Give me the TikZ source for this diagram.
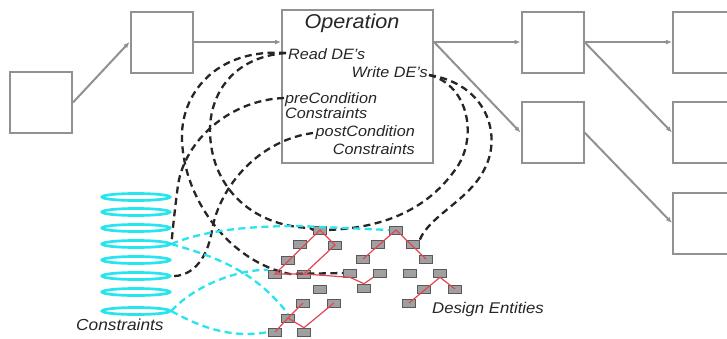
\documentclass[tikz,border=0pt]{standalone}
\usepackage{fontspec}
\setmainfont{Liberation Sans}
\usepackage{graphicx}
\usetikzlibrary{shapes.geometric,arrows.meta}
\definecolor{boxgray}{RGB}{145,145,145}
\definecolor{cyanx}{RGB}{40,228,238}
\definecolor{redx}{RGB}{225,70,85}
\definecolor{degray}{RGB}{160,160,160}
\newcommand{\lbl}[1]{\scalebox{1.08}[1]{\itshape #1}}
\begin{document}
\begin{tikzpicture}[x=1pt,y=-1pt,
  blk/.style={draw=boxgray,line width=2pt,minimum width=62pt,minimum height=61pt,inner sep=0pt},
  flow/.style={draw=boxgray,line width=2pt,-{Latex[length=6pt,width=5pt]}},
  de/.style={draw=gray!70!black,fill=degray,line width=0.6pt,minimum width=13pt,minimum height=8pt,inner sep=0pt},
  cons/.style={ellipse,draw=cyanx,line width=2.7pt,minimum width=68pt,minimum height=7pt,inner sep=0pt},
  bdash/.style={draw=black!85,line width=2.3pt,dash pattern=on 7pt off 4.5pt},
  cdash/.style={draw=cyanx,line width=2.3pt,dash pattern=on 7pt off 4.5pt},
  rl/.style={draw=redx,line width=1.2pt},
  lab/.style={inner sep=0pt,font=\fontsize{15}{17}\selectfont,text=black!85}
]
\useasboundingbox (0,0) rectangle (727,338);
\fill[white] (0,0) rectangle (727,338);
\clip (0,0) rectangle (727,338);

% process boxes
\node[blk] (A) at (41,102.5) {};
\node[blk] (B) at (161.5,42) {};
\node[draw=boxgray,line width=2pt,minimum width=151pt,minimum height=153pt,inner sep=0pt] (op) at (357.5,86.5) {};
\node[blk] (C) at (552.5,42) {};
\node[blk] (D) at (552.5,132.5) {};
\node[blk] (E) at (704,42) {};
\node[blk] (F) at (704,132.5) {};
\node[blk] (G) at (704,223) {};

% flow arrows
\draw[flow] (A.east) -- (B.west);
\draw[flow] (B.east) -- (B.east -| op.west);
\draw[flow] (C.west -| op.east) -- (C.west);
\draw[flow] (C.west -| op.east) -- (D.west);
\draw[flow] (C.east) -- (E.west);
\draw[flow] (C.east) -- (F.west);
\draw[flow] (D.east) -- (G.west);

% constraints
\foreach \i/\yy in {1/197,2/212,3/228,4/244,5/260,6/276,7/292,8/311}
  \node[cons] (e\i) at (136,\yy) {};

% design entities
\foreach \n/\xx/\yy in {1/320/230,2/300/244,3/335/245,4/288/260,5/275/274,6/304/274,7/350/273,
  8/363/259,9/378/244,10/396/230,11/413/244,12/426/259,13/380/273,14/410/273,15/440/273,
  16/364/288,17/424/289,18/455/289,19/409/303,20/320/289,21/303/303,22/334/303,23/288/318,24/275/332,25/304/332}
  \node[de] (d\n) at (\xx,\yy) {};

% ends of the dashed links in the operation box
\coordinate (rd) at (286,53);
\coordinate (wr) at (429,75);
\coordinate (pre) at (284,98);
\coordinate (post) at (313,133);

% black dashed links
\draw[bdash] (rd) .. controls (215,48) and (180,95) .. (182,140)
  .. controls (184,200) and (230,262) .. (290,274) -- (d7.west);
\draw[bdash] (rd) .. controls (232,57) and (210,95) .. (210,130)
  .. controls (210,185) and (250,226) .. (310,228) -- (d1.west);
\draw[bdash] (wr) .. controls (470,85) and (478,140) .. (455,170)
  .. controls (430,205) and (390,228) .. (d1.east);
\draw[bdash] (wr) .. controls (487,84) and (502,135) .. (485,168)
  .. controls (470,200) and (430,215) .. (d11.north east);
\draw[bdash] (pre) .. controls (230,100) and (185,140) .. (178,185)
  .. controls (174,215) and (172,238) .. (e4.east);
\draw[bdash] (post) .. controls (260,140) and (220,185) .. (212,230)
  .. controls (207,262) and (190,277) .. (e6.east);

% cyan dashed links
\draw[cdash] (e4.east) .. controls (205,230) and (250,226) .. (300,226) -- (d10.west);
\draw[cdash] (e4.east) .. controls (220,258) and (255,272) .. (d23.north);
\draw[cdash] (e8.east) .. controls (190,290) and (230,270) .. (d5.north west);
\draw[cdash] (e8.east) .. controls (205,330) and (235,338) .. (d24.west);

% red relations
\draw[rl] (d5.center) -- (d1.center) -- (d3.center) -- (d6.center) -- cycle;
\draw[rl] (d6.center) -- (d7.south) -- (d16.north) -- (d13.south west);
\draw[rl] (d8.center) -- (d10.center) -- (d12.center);
\draw[rl] (d19.center) -- (d15.south) -- (d18.center);
\draw[rl] (d24.center) -- (d23.center) -- (d25.north) -- (d22.center);
\draw[rl] (d23.center) -- (d21.center);

% texts
\node[lab,font=\fontsize{20}{22}\selectfont,anchor=base] (optitle) at (352,28) {\lbl{Operation}};
\node[lab,anchor=base west] (readt) at (288,59) {\lbl{Read DE's}};
\node[lab,anchor=base east] (writet) at (428,77) {\lbl{Write DE's}};
\node[lab,anchor=base west] (pret) at (285,103) {\lbl{preCondition}};
\node[lab,anchor=base west] (pret2) at (285,118) {\lbl{Constraints}};
\node[lab,anchor=base east] (postt) at (415,136) {\lbl{postCondition}};
\node[lab,anchor=base east] (postt2) at (415,154) {\lbl{Constraints}};
\node[lab,font=\fontsize{16}{18}\selectfont,anchor=base west] (const) at (76,330) {\lbl{Constraints}};
\node[lab,font=\fontsize{15.5}{18}\selectfont,anchor=base west] (dent) at (432,313) {\lbl{Design Entities}};
\end{tikzpicture}
\end{document}
